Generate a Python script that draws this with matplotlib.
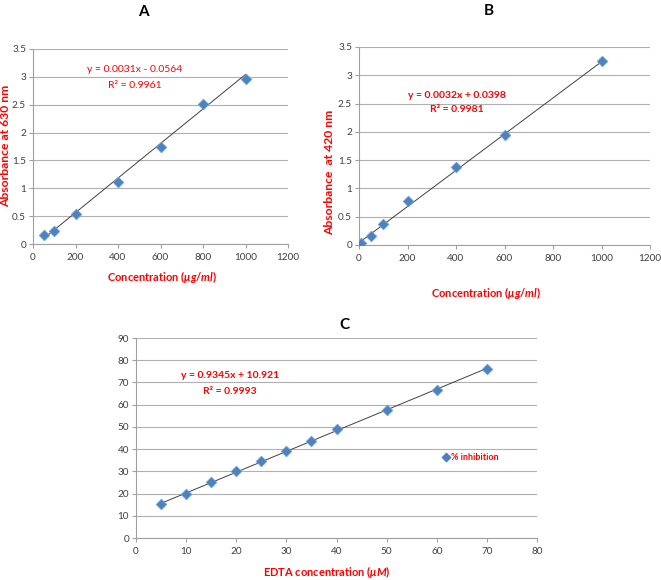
import matplotlib
matplotlib.use("Agg")
import matplotlib.pyplot as plt
import numpy as np

plt.rcParams['font.family'] = ['Lato', 'DejaVu Sans']
plt.rcParams['mathtext.fontset'] = 'custom'
plt.rcParams['mathtext.rm'] = 'Lato:bold'
plt.rcParams['mathtext.it'] = 'Lato:bold:italic'
plt.rcParams['mathtext.bf'] = 'Lato:bold'
plt.rcParams['mathtext.fallback'] = 'stixsans'

# Panel A
a_x = [50, 100, 200, 400, 600, 800, 1000]
a_y = [0.17, 0.24, 0.53, 1.11, 1.74, 2.52, 2.97]
a_slope, a_int = 0.0031, -0.0564
# Panel B
b_x = [10, 50, 100, 200, 400, 600, 1000]
b_y = [0.03, 0.16, 0.38, 0.78, 1.37, 1.94, 3.26]
b_slope, b_int = 0.0032, 0.0398
# Panel C
c_x = [5, 10, 15, 20, 25, 30, 35, 40, 50, 60, 70]
c_y = [15.2, 19.6, 25.3, 30.2, 34.6, 39.1, 43.7, 49.2, 57.6, 66.8, 76.0]
c_slope, c_int = 0.9345, 10.921

W, H = 661, 580
fig = plt.figure(figsize=(W/100, H/100), dpi=100)

def axes_px(l, r, t, b):
    return fig.add_axes([l/W, 1 - b/H, (r-l)/W, (b-t)/H])

def ftext(x, y, s, **kw):
    return fig.text(x/W, 1 - y/H, s, **kw)

MC = '#4F81BD'
RED = '#FF0000'
TICKC = '#404040'

def style(ax, xlim, xt, ylim, yt):
    ax.set_xlim(*xlim); ax.set_ylim(*ylim)
    ax.set_xticks(xt); ax.set_yticks(yt)
    ax.set_xticklabels(['%g' % v for v in xt])
    ax.set_yticklabels(['%g' % v for v in yt])
    for s in ['top', 'right']:
        ax.spines[s].set_visible(False)
    for s in ['left', 'bottom']:
        ax.spines[s].set_color('#A0A0A0')
        ax.spines[s].set_linewidth(0.8)
    ax.yaxis.grid(True, color='#B0B0B0', linewidth=0.8)
    ax.set_axisbelow(True)
    ax.tick_params(axis='both', colors='#A0A0A0', labelcolor=TICKC, labelsize=7.2, length=3, width=0.8)
    ax.tick_params(axis='y', pad=2)

lab = dict(color=RED, fontsize=8, fontweight='bold', ha='center', va='center')
ylab = dict(color=RED, fontsize=8.7, fontweight='bold', ha='center', va='center', rotation=90)
eq_n = dict(color=RED, fontsize=7.5, ha='center', va='center')
eq_b = dict(color=RED, fontsize=7.5, fontweight='bold', ha='center', va='center')

# A
axA = axes_px(33, 288, 49, 244)
style(axA, (0, 1200), [0, 200, 400, 600, 800, 1000, 1200], (0, 3.5), [0, 0.5, 1, 1.5, 2, 2.5, 3, 3.5])
xs = np.array([min(a_x), max(a_x)])
axA.plot(xs, a_slope*xs + a_int, color='#404040', lw=0.7, zorder=2)
axA.scatter(a_x, a_y, marker='D', s=30, color=MC, edgecolors='#6FA8DC', linewidths=0.5, zorder=3)
axA.text(480, 3.14, 'y = 0.0031x - 0.0564', **eq_n)
axA.text(480, 2.85, 'R² = 0.9961', **eq_n)
ftext(6, 146, 'Absorbance at 630 nm', **ylab)
ftext(162, 277, r'Concentration ($\mu g/ml$)', **lab)
ftext(143, 12, 'A', fontsize=11, fontweight='bold', ha='center', va='center')

# B
axB = axes_px(359, 650, 47, 245)
style(axB, (0, 1200), [0, 200, 400, 600, 800, 1000, 1200], (0, 3.5), [0, 0.5, 1, 1.5, 2, 2.5, 3, 3.5])
xs = np.array([min(b_x), max(b_x)])
axB.plot(xs, b_slope*xs + b_int, color='#404040', lw=0.7, zorder=2)
axB.scatter(b_x, b_y, marker='D', s=30, color=MC, edgecolors='#6FA8DC', linewidths=0.5, zorder=3)
axB.text(404, 2.65, 'y = 0.0032x + 0.0398', **eq_b)
axB.text(404, 2.39, 'R² = 0.9981', **eq_b)
ftext(330, 172, 'Absorbance  at 420 nm', **ylab)
ftext(486, 293, r'Concentration ($\mu g/ml$)', **lab)
ftext(489, 11, 'B', fontsize=11, fontweight='bold', ha='center', va='center')

# C
axC = axes_px(136, 537, 338, 538)
style(axC, (0, 80), [0, 10, 20, 30, 40, 50, 60, 70, 80], (0, 90), [0, 10, 20, 30, 40, 50, 60, 70, 80, 90])
xs = np.array([min(c_x), max(c_x)])
axC.plot(xs, c_slope*xs + c_int, color='#404040', lw=0.7, zorder=2)
axC.scatter(c_x, c_y, marker='D', s=30, color=MC, edgecolors='#6FA8DC', linewidths=0.5, zorder=3)
axC.text(18.8, 72.9, 'y = 0.9345x + 10.921', **eq_b)
axC.text(18.8, 65.7, 'R² = 0.9993', **eq_b)
ftext(327, 572, r'EDTA concentration ($\mu M$)', **lab)
ftext(344, 325, 'C', fontsize=11, fontweight='bold', ha='center', va='center')
# legend
axC.scatter([61.9], [36.3], marker='D', s=18, color=MC, zorder=3, clip_on=False)
axC.text(62.9, 36.3, '% inhibition', color=RED, fontsize=6.5, fontweight='bold', ha='left', va='center')

fig.savefig('out.png', dpi=100)
